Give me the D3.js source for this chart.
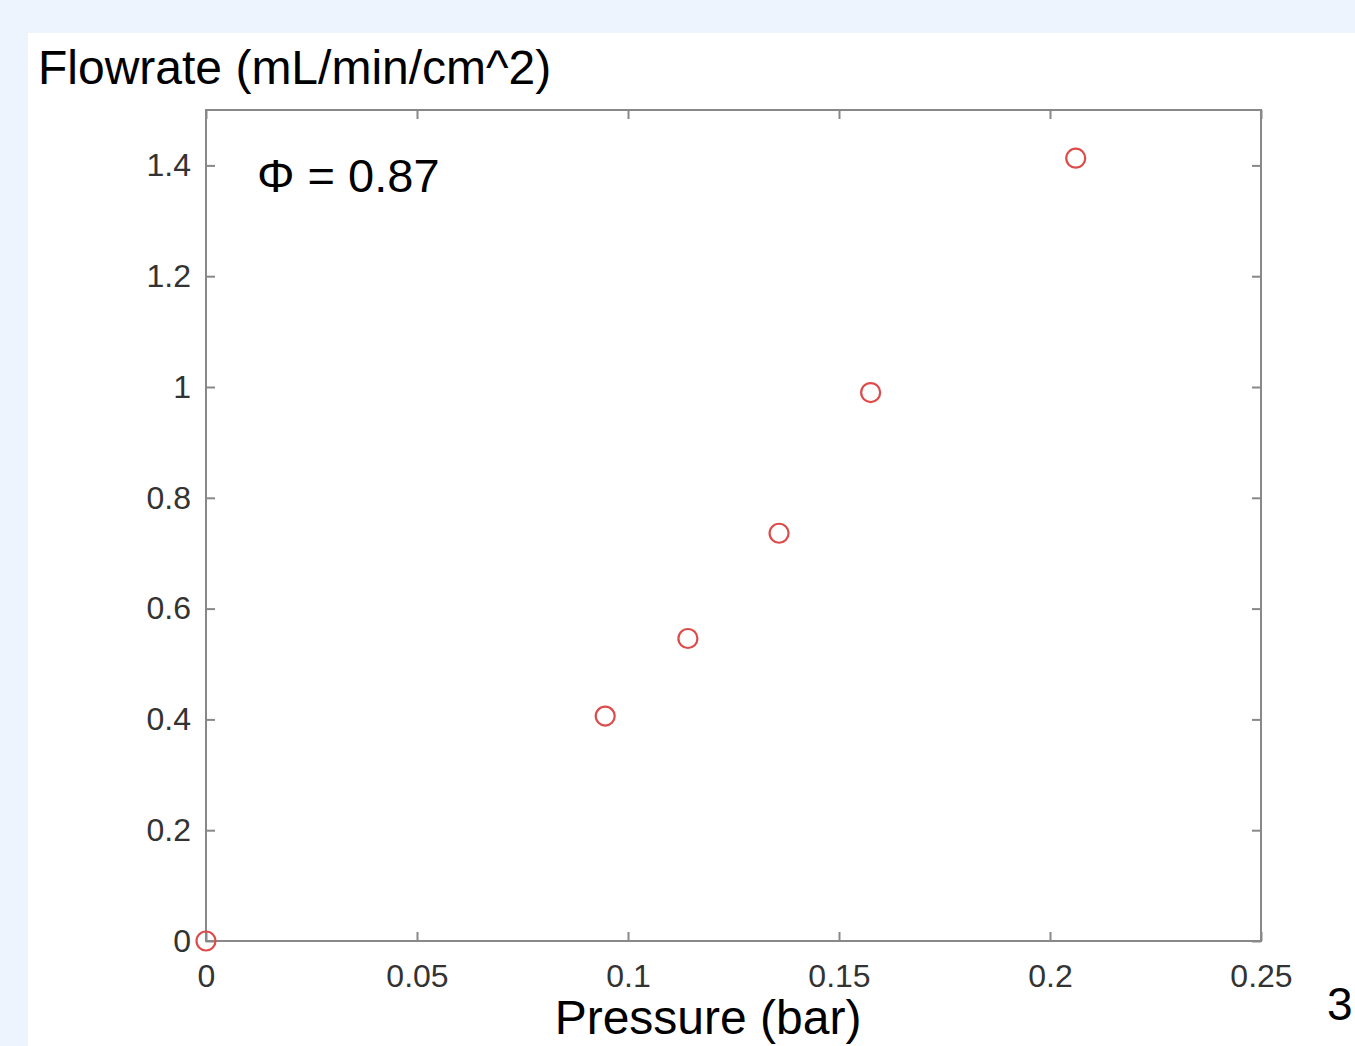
<!DOCTYPE html>
<html>
<head>
<meta charset="utf-8">
<script src="https://cdn.jsdelivr.net/npm/d3@7"></script>
<style>
  body { margin: 0; background: #edf4fd; }
  svg { display: block; }
  text { font-family: "Liberation Sans", Arial, sans-serif; }
</style>
</head>
<body>
<svg width="1355" height="1046"></svg>
<script>
var pressure = [0, 0.0946, 0.1142, 0.1358, 0.1575, 0.2061];
var flowrate = [0, 0.406, 0.546, 0.736, 0.990, 1.413];
var xTicks = [0, 0.05, 0.1, 0.15, 0.2, 0.25];
var xTickLabels = ["0", "0.05", "0.1", "0.15", "0.2", "0.25"];
var yTicks = [0, 0.2, 0.4, 0.6, 0.8, 1, 1.2, 1.4];
var yTickLabels = ["0", "0.2", "0.4", "0.6", "0.8", "1", "1.2", "1.4"];

var svg = d3.select("svg");

svg.append("rect")
    .attr("x", 28).attr("y", 33)
    .attr("width", 1327).attr("height", 1013)
    .attr("fill", "#fff");

var plotLeft = 206, plotRight = 1261, plotTop = 110, plotBottom = 941;

var x = d3.scaleLinear().domain([0, 0.25]).range([plotLeft, plotRight]);
var y = d3.scaleLinear().domain([0, 1.5]).range([plotBottom, plotTop]);

var axisColor = "#888";

// frame
svg.append("rect")
    .attr("x", plotLeft).attr("y", plotTop)
    .attr("width", plotRight - plotLeft).attr("height", plotBottom - plotTop)
    .attr("fill", "none")
    .attr("stroke", axisColor)
    .attr("stroke-width", 2);

function styleAxis(g) {
  g.select(".domain").remove();
  g.selectAll(".tick line").attr("stroke", axisColor).attr("stroke-width", 2);
  g.selectAll(".tick text")
    .attr("fill", "#333")
    .style("font-size", "32px");
}

svg.append("g")
    .attr("transform", "translate(0," + plotBottom + ")")
    .call(d3.axisBottom(x).tickValues(xTicks)
      .tickFormat(function(d, i) { return xTickLabels[i]; })
      .tickSizeInner(-9).tickSizeOuter(0).tickPadding(23))
    .call(styleAxis);

svg.append("g")
    .attr("transform", "translate(0," + plotTop + ")")
    .call(d3.axisTop(x).tickValues(xTicks).tickFormat("")
      .tickSizeInner(-9).tickSizeOuter(0))
    .call(styleAxis);

svg.append("g")
    .attr("transform", "translate(" + plotLeft + ",0)")
    .call(d3.axisLeft(y).tickValues(yTicks)
      .tickFormat(function(d, i) { return yTickLabels[i]; })
      .tickSizeInner(-9).tickSizeOuter(0).tickPadding(15))
    .call(styleAxis);

svg.append("g")
    .attr("transform", "translate(" + plotRight + ",0)")
    .call(d3.axisRight(y).tickValues(yTicks).tickFormat("")
      .tickSizeInner(-9).tickSizeOuter(0))
    .call(styleAxis);

// points
svg.append("g")
  .selectAll("circle")
  .data(pressure)
  .enter().append("circle")
    .attr("cx", function(d) { return x(d); })
    .attr("cy", function(d, i) { return y(flowrate[i]); })
    .attr("r", 9.5)
    .attr("fill", "none")
    .attr("stroke", "#dd4b4b")
    .attr("stroke-width", 2.2);

svg.append("text")
    .attr("x", 38).attr("y", 84)
    .style("font-size", "48px")
    .attr("fill", "#000")
    .text("Flowrate (mL/min/cm^2)");

svg.append("text")
    .attr("x", 257).attr("y", 192)
    .style("font-size", "47px")
    .attr("fill", "#000")
    .text("Φ = 0.87");

svg.append("text")
    .attr("x", 708).attr("y", 1034)
    .attr("text-anchor", "middle")
    .style("font-size", "48px")
    .attr("fill", "#000")
    .text("Pressure (bar)");

svg.append("text")
    .attr("x", 1327).attr("y", 1020)
    .style("font-size", "46px")
    .attr("fill", "#000")
    .text("3");
</script>
</body>
</html>
